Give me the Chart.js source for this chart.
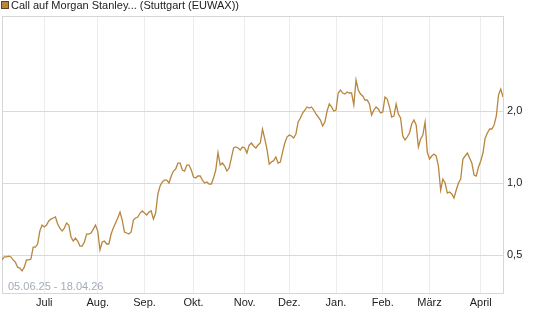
<!DOCTYPE html>
<html>
<head>
<meta charset="utf-8">
<script src="https://cdn.jsdelivr.net/npm/chart.js@4"></script>
<style>
  html, body { margin: 0; padding: 0; background: #fff; }
  #wrap { position: relative; width: 545px; height: 327px; }
</style>
</head>
<body>
<div id="wrap"><canvas id="priceChart" width="545" height="327"></canvas></div>
<script>
// daily closing prices, 05.06.25 - 17.04.26
const prices = [
  0.477, 0.491, 0.491, 0.495, 0.491, 0.477, 0.467, 0.445, 0.441, 0.429,
  0.445, 0.477, 0.477, 0.481, 0.540, 0.540, 0.556, 0.630, 0.667, 0.655,
  0.667, 0.694, 0.707, 0.714, 0.721, 0.674, 0.648, 0.630, 0.648, 0.680,
  0.667, 0.595, 0.572, 0.589, 0.572, 0.545, 0.545, 0.567, 0.612, 0.612,
  0.618, 0.642, 0.667, 0.630, 0.525, 0.567, 0.572, 0.556, 0.556, 0.612,
  0.648, 0.680, 0.714, 0.756, 0.700, 0.624, 0.618, 0.612, 0.624, 0.700,
  0.714, 0.721, 0.749, 0.764, 0.749, 0.735, 0.756, 0.764, 0.707, 0.749,
  0.900, 0.972, 1.010, 1.029, 1.029, 1.000, 1.070, 1.122, 1.144, 1.212,
  1.212, 1.133, 1.122, 1.189, 1.189, 1.133, 1.060, 1.049, 1.070, 1.070,
  1.029, 1.000, 1.010, 0.990, 0.990, 1.049, 1.133, 1.340, 1.189, 1.212,
  1.178, 1.122, 1.155, 1.272, 1.401, 1.414, 1.401, 1.374, 1.414, 1.401,
  1.335, 1.442, 1.470, 1.428, 1.401, 1.442, 1.470, 1.680, 1.528, 1.387,
  1.200, 1.224, 1.240, 1.285, 1.212, 1.224, 1.347, 1.470, 1.557, 1.587,
  1.572, 1.542, 1.603, 1.799, 1.870, 1.962, 2.019, 2.079, 2.059, 2.079,
  2.019, 1.943, 1.888, 1.834, 1.731, 1.799, 2.000, 2.139, 2.079, 2.000,
  2.019, 2.378, 2.448, 2.378, 2.356, 2.401, 2.378, 2.378, 2.119, 2.694,
  2.448, 2.356, 2.311, 2.223, 2.223, 2.139, 1.924, 2.019, 2.079, 2.039,
  1.962, 1.981, 2.289, 2.245, 2.079, 1.888, 1.906, 2.139, 1.943, 1.870,
  1.572, 1.513, 1.557, 1.618, 1.765, 1.834, 1.748, 1.414, 1.528, 1.587,
  1.799, 1.347, 1.260, 1.297, 1.322, 1.297, 1.178, 0.935, 1.039, 1.000,
  0.908, 0.917, 0.900, 0.866, 0.935, 1.000, 1.039, 1.260, 1.297, 1.335,
  1.272, 1.212, 1.080, 1.070, 1.167, 1.236, 1.335, 1.542, 1.618, 1.682,
  1.682, 1.748, 1.906, 2.334, 2.472, 2.289
];

// index of the first trading day of each month
const monthIndex = [19, 43, 64, 86, 109, 129, 150, 171, 192, 215];
const monthLabels = ['Juli', 'Aug.', 'Sep.', 'Okt.', 'Nov.', 'Dez.', 'Jan.', 'Feb.', 'März', 'April'];
const yTicks = [0.5, 1, 2];

const seriesName = 'Call auf Morgan Stanley... (Stuttgart (EUWAX))';
const rangeText = '05.06.25 - 18.04.26';

const lineColor = '#b8863e';
const fontFamily = '"Liberation Sans", Arial, sans-serif';

// frame, legend and date range are drawn by hand
const decorations = {
  id: 'decorations',
  beforeDatasetsDraw(chart) {
    const a = chart.chartArea;
    const ctx = chart.ctx;
    ctx.save();
    ctx.strokeStyle = '#d6d6d6';
    ctx.lineWidth = 1;
    ctx.strokeRect(Math.round(a.left) + 0.5, Math.round(a.top) + 0.5,
      Math.round(a.right - a.left), Math.round(a.bottom - a.top));
    ctx.font = '11px ' + fontFamily;
    ctx.fillStyle = '#a3abba';
    ctx.textBaseline = 'middle';
    ctx.fillText(rangeText, 8, 287);
    ctx.restore();
  },
  afterDraw(chart) {
    const ctx = chart.ctx;
    ctx.save();
    ctx.fillStyle = lineColor;
    ctx.fillRect(1, 1, 8, 8);
    ctx.strokeStyle = '#5e4520';
    ctx.lineWidth = 1;
    ctx.strokeRect(1.5, 1.5, 7, 7);
    ctx.font = '11px ' + fontFamily;
    ctx.fillStyle = '#222';
    ctx.textBaseline = 'middle';
    ctx.fillText(seriesName, 11, 6);
    ctx.restore();
  }
};

const ctx = document.getElementById('priceChart').getContext('2d');
new Chart(ctx, {
  type: 'line',
  data: {
    datasets: [{
      label: seriesName,
      data: prices.map((v, i) => ({ x: i, y: v })),
      borderColor: lineColor,
      borderWidth: 1.3,
      pointRadius: 0,
      tension: 0,
      fill: false
    }]
  },
  options: {
    responsive: false,
    animation: false,
    layout: { padding: { left: 2, top: 16, right: 0, bottom: 0 } },
    plugins: {
      legend: { display: false },
      tooltip: { enabled: false }
    },
    scales: {
      x: {
        type: 'linear',
        bounds: 'data',
        min: 0,
        max: prices.length - 1,
        afterBuildTicks(scale) {
          scale.ticks = monthIndex.map(v => ({ value: v }));
        },
        afterFit(scale) { scale.height = 34; },
        ticks: {
          autoSkip: false,
          maxRotation: 0,
          padding: 3,
          color: '#222',
          font: { family: fontFamily, size: 11 },
          callback: (value) => monthLabels[monthIndex.indexOf(value)]
        },
        grid: { color: '#ececec', drawTicks: false },
        border: { display: false }
      },
      y: {
        type: 'logarithmic',
        position: 'right',
        bounds: 'data',
        min: 0.347,
        max: 4.99,
        afterBuildTicks(scale) {
          scale.ticks = yTicks.map(v => ({ value: v }));
        },
        afterFit(scale) { scale.width = 42; },
        ticks: {
          padding: 4,
          color: '#222',
          font: { family: fontFamily, size: 11 },
          callback: (value) => value.toFixed(1).replace('.', ',')
        },
        grid: { color: '#dadada', drawTicks: false },
        border: { display: false }
      }
    }
  },
  plugins: [decorations]
});
</script>
</body>
</html>
